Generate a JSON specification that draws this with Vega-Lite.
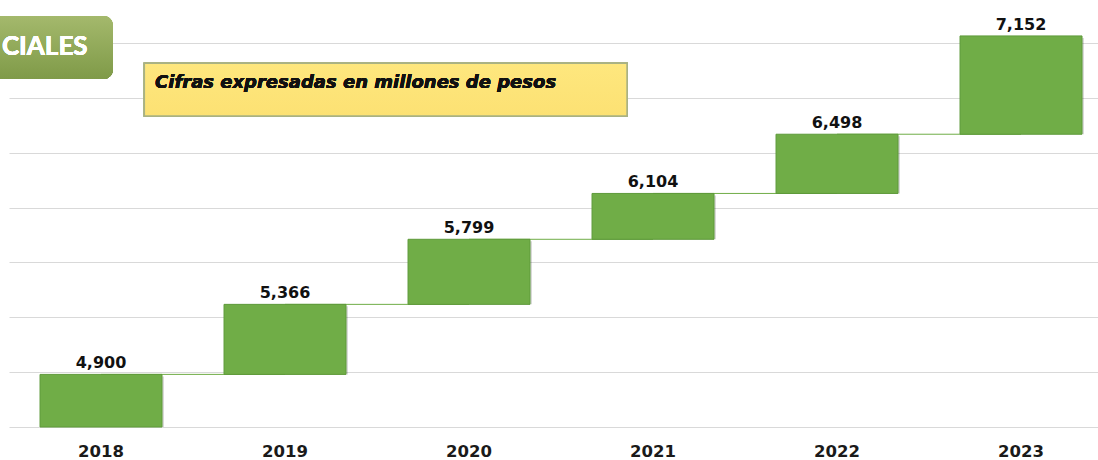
{
  "$schema": "https://vega.github.io/schema/vega-lite/v6.json",
  "width": 1089,
  "height": 384,
  "autosize": {"type": "none"},
  "padding": {"left": 9, "top": 43, "right": 0, "bottom": 33},
  "background": "white",
  "config": {
    "view": {"stroke": null},
    "axisX": {"grid": false, "domain": false, "ticks": false, "labelFont": "DejaVu Sans", "labelFontWeight": "bold", "labelFontSize": 16.5, "labelColor": "#1a1a1a", "labelBaseline": "alphabetic", "labelPadding": 29, "labelAngle": 0},
    "axisY": {"labels": false, "ticks": false, "domain": false, "grid": true, "gridColor": "#d9d9d9", "gridWidth": 1.2}
  },
  "data": {
    "values": [
      {"year": "2018", "value": 4900, "prev": null, "next": "2019"},
      {"year": "2019", "value": 5366, "prev": 4900, "next": "2020"},
      {"year": "2020", "value": 5799, "prev": 5366, "next": "2021"},
      {"year": "2021", "value": 6104, "prev": 5799, "next": "2022"},
      {"year": "2022", "value": 6498, "prev": 6104, "next": "2023"},
      {"year": "2023", "value": 7152, "prev": 6498, "next": null}
    ]
  },
  "layer": [
    {
      "transform": [{"filter": "datum.next != null"}],
      "mark": {"type": "rule", "color": "#70AD47", "strokeWidth": 1},
      "encoding": {
        "x": {"field": "year", "type": "ordinal", "title": null, "scale": {"domain": ["2018", "2019", "2020", "2021", "2022", "2023"], "paddingInner": 0.337, "paddingOuter": 0.1277, "align": 0.66}},
        "x2": {"field": "next"},
        "y": {"field": "value", "type": "quantitative", "title": null, "scale": {"domain": [4550, 7105], "nice": false, "zero": false}, "axis": {"values": [4550, 4915, 5280, 5645, 6010, 6375, 6740, 7105]}}
      }
    },
    {
      "transform": [{"filter": "datum.prev != null"}],
      "mark": {"type": "bar", "color": "#000000", "opacity": 0.15, "xOffset": 2, "yOffset": 2},
      "encoding": {
        "x": {"field": "year", "type": "ordinal", "title": null},
        "y": {"field": "value", "type": "quantitative", "title": null},
        "y2": {"field": "prev"}
      }
    },
    {
      "transform": [{"filter": "datum.prev == null"}],
      "mark": {"type": "bar", "color": "#000000", "opacity": 0.15, "xOffset": 2, "yOffset": 2},
      "encoding": {
        "x": {"field": "year", "type": "ordinal", "title": null},
        "y": {"field": "value", "type": "quantitative", "title": null},
        "y2": {"datum": 4550}
      }
    },
    {
      "transform": [{"filter": "datum.prev != null"}],
      "mark": {"type": "bar", "fill": "#70AD47", "stroke": "#5E9A3A", "strokeWidth": 1},
      "encoding": {
        "x": {"field": "year", "type": "ordinal", "title": null},
        "y": {"field": "value", "type": "quantitative", "title": null},
        "y2": {"field": "prev"}
      }
    },
    {
      "transform": [{"filter": "datum.prev == null"}],
      "mark": {"type": "bar", "fill": "#70AD47", "stroke": "#5E9A3A", "strokeWidth": 1},
      "encoding": {
        "x": {"field": "year", "type": "ordinal", "title": null},
        "y": {"field": "value", "type": "quantitative", "title": null},
        "y2": {"datum": 4550}
      }
    },
    {
      "mark": {"type": "text", "baseline": "alphabetic", "dy": -6, "font": "DejaVu Sans", "fontWeight": "bold", "fontSize": 16, "color": "#111111"},
      "encoding": {
        "x": {"field": "year", "type": "ordinal", "title": null},
        "y": {"field": "value", "type": "quantitative", "title": null},
        "text": {"field": "value", "type": "quantitative", "format": ","}
      }
    },
    {
      "mark": {"type": "rect", "color": "#000000", "opacity": 0.3, "cornerRadius": 9, "xOffset": 3, "yOffset": 4},
      "encoding": {
        "x": {"datum": "2018", "type": "ordinal", "bandPosition": -0.5},
        "x2": {"datum": "2018", "bandPosition": 0.596},
        "y": {"datum": 7285, "type": "quantitative"},
        "y2": {"datum": 6865}
      }
    },
    {
      "mark": {"type": "rect", "cornerRadius": 9, "fill": {"gradient": "linear", "x1": 0, "y1": 0, "x2": 0, "y2": 1, "stops": [{"offset": 0, "color": "#A4B96C"}, {"offset": 1, "color": "#7F9A48"}]}},
      "encoding": {
        "x": {"datum": "2018", "type": "ordinal", "bandPosition": -0.5},
        "x2": {"datum": "2018", "bandPosition": 0.596},
        "y": {"datum": 7285, "type": "quantitative"},
        "y2": {"datum": 6865}
      }
    },
    {
      "mark": {"type": "text", "text": "CIALES", "align": "right", "baseline": "middle", "font": "Lato", "fontWeight": "bold", "fontSize": 26, "color": "#ffffff"},
      "encoding": {
        "x": {"datum": "2018", "type": "ordinal", "bandPosition": 0.39},
        "y": {"datum": 7078, "type": "quantitative"}
      }
    },
    {
      "mark": {"type": "rect", "color": "#000000", "opacity": 0.25, "xOffset": 2, "yOffset": 2},
      "encoding": {
        "x": {"datum": "2018", "type": "ordinal", "bandPosition": 0.855},
        "x2": {"datum": "2021", "bandPosition": 0.287},
        "y": {"datum": 6970, "type": "quantitative"},
        "y2": {"datum": 6619}
      }
    },
    {
      "mark": {"type": "rect", "fill": {"gradient": "linear", "x1": 0, "y1": 0, "x2": 0, "y2": 1, "stops": [{"offset": 0, "color": "#FEE77E"}, {"offset": 1, "color": "#FCE173"}]}, "stroke": "#A9B283", "strokeWidth": 1.5},
      "encoding": {
        "x": {"datum": "2018", "type": "ordinal", "bandPosition": 0.855},
        "x2": {"datum": "2021", "bandPosition": 0.287},
        "y": {"datum": 6970, "type": "quantitative"},
        "y2": {"datum": 6619}
      }
    },
    {
      "mark": {"type": "text", "text": "Cifras expresadas en millones de pesos", "align": "left", "baseline": "alphabetic", "font": "DejaVu Sans", "fontWeight": "bold", "fontStyle": "italic", "fontSize": 18, "color": "#111111"},
      "encoding": {
        "x": {"datum": "2018", "type": "ordinal", "bandPosition": 0.943},
        "y": {"datum": 6806, "type": "quantitative"}
      }
    }
  ]
}
